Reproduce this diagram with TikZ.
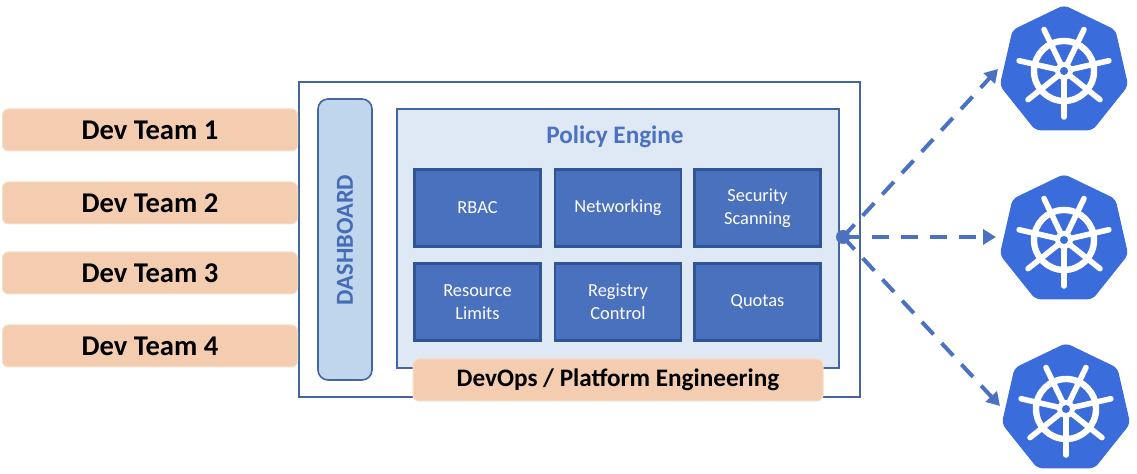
\documentclass[tikz,border=0pt]{standalone}
\usepackage{fontspec}
\setmainfont{Carlito}
\usetikzlibrary{shapes.geometric,arrows.meta}
\definecolor{peach}{HTML}{F4CDB1}
\definecolor{tile}{HTML}{4A71BD}
\definecolor{tileline}{HTML}{2F5597}
\definecolor{engine}{HTML}{DFE8F5}
\definecolor{dash}{HTML}{C0D6EC}
\definecolor{frame}{HTML}{44659F}
\definecolor{kube}{HTML}{3A6CDC}
\definecolor{arrowc}{HTML}{4A72C0}
\tikzset{
  every node/.style={inner sep=0pt,outer sep=0pt},
  teambox/.style={fill=peach,draw=peach!70!white,line width=0.5pt,rounded corners=3pt,minimum width=147.5pt,minimum height=21pt,font=\fontsize{14.3}{15}\selectfont\bfseries,text=black},
  tilebox/.style={fill=tile,draw=tileline,line width=1.1pt,minimum width=63pt,minimum height=38.5pt,align=center,font=\fontsize{9.2}{11.5}\selectfont,text=white},
  kubenode/.style={regular polygon,regular polygon sides=7,minimum size=130pt*0.5,fill=kube,draw=kube,line width=0.8pt,rounded corners=2.5pt},
  flow/.style={draw=arrowc,line width=2pt,dash pattern=on 8.5pt off 6pt,-{Triangle[length=6.5pt,width=7.5pt]}},
  pics/helm/.style={code={
    \draw[white,line width=3.2pt] (0,0) circle[radius=30];
    \foreach \a in {90,141.43,192.86,244.29,295.71,347.14,38.57}{
      \draw[white,line width=2.8pt,line cap=round] (0,0) -- (\a:46);
    }
    \fill[white] (0,0) circle[radius=9];
    \fill[kube] (0,0) circle[radius=4];
  }}
}
\begin{document}
\begin{tikzpicture}[x=0.5pt,y=-0.5pt]
\useasboundingbox (0,0) rectangle (1137,474);
% outer frame
\node[draw=frame,line width=0.8pt,minimum width=280.5pt,minimum height=157.5pt] (frame) at (579.5,239.5) {};
\node[fill=engine,draw=frame,line width=0.8pt,minimum width=221pt,minimum height=129.5pt] (engine) at (618,238.5) {};
\node[fill=dash,draw=frame,line width=0.8pt,rounded corners=5pt,minimum width=27pt,minimum height=140.5pt] (dashboard) at (345,239.5) {};
\node[rotate=90,text=arrowc!95!black,font=\fontsize{12.2}{14}\selectfont\bfseries] (dashlabel) at (345,240) {DASHBOARD};
\node[text=arrowc,font=\fontsize{12.6}{14}\selectfont\bfseries] (title) at (615,137) {Policy Engine};
% teams
\node[teambox] (t1) at (150,130) {\raisebox{-0.3pt}{Dev Team 1}};
\node[teambox] (t2) at (150,203) {\raisebox{-0.3pt}{Dev Team 2}};
\node[teambox] (t3) at (150,273) {\raisebox{-0.3pt}{Dev Team 3}};
\node[teambox] (t4) at (150,346) {\raisebox{-0.3pt}{Dev Team 4}};
% tiles
\node[tilebox] (rbac) at (477.5,208) {RBAC};
\node[tilebox] (net) at (618,208) {Networking};
\node[tilebox] (sec) at (757.5,208) {Security\\Scanning};
\node[tilebox] (res) at (477.5,302) {Resource\\Limits};
\node[tilebox] (reg) at (618,302) {Registry\\Control};
\node[tilebox] (quo) at (757.5,302) {Quotas};
\node[fill=peach,draw=peach!70!white,line width=0.5pt,rounded corners=3pt,minimum width=205pt,minimum height=21pt,font=\fontsize{12.6}{15}\selectfont\bfseries,text=black] (devops) at (618,380) {DevOps / Platform Engineering};
% kubernetes
\node[kubenode] (k1) at (1064,71) {};
\node[kubenode] (k2) at (1064,240) {};
\node[kubenode] (k3) at (1066,409) {};
\pic at (k1.center) {helm};
\pic at (k2.center) {helm};
\pic at (k3.center) {helm};
% arrows
\coordinate (hub) at (843,237);
\coordinate (e1) at (998,69);
\coordinate (e2) at (996,237);
\coordinate (e3) at (1000,406);
\fill[arrowc] (hub) circle[radius=7];
\draw[flow] (hub) -- (e1);
\draw[flow] (hub) -- (e2);
\draw[flow] (hub) -- (e3);
\end{tikzpicture}
\end{document}
